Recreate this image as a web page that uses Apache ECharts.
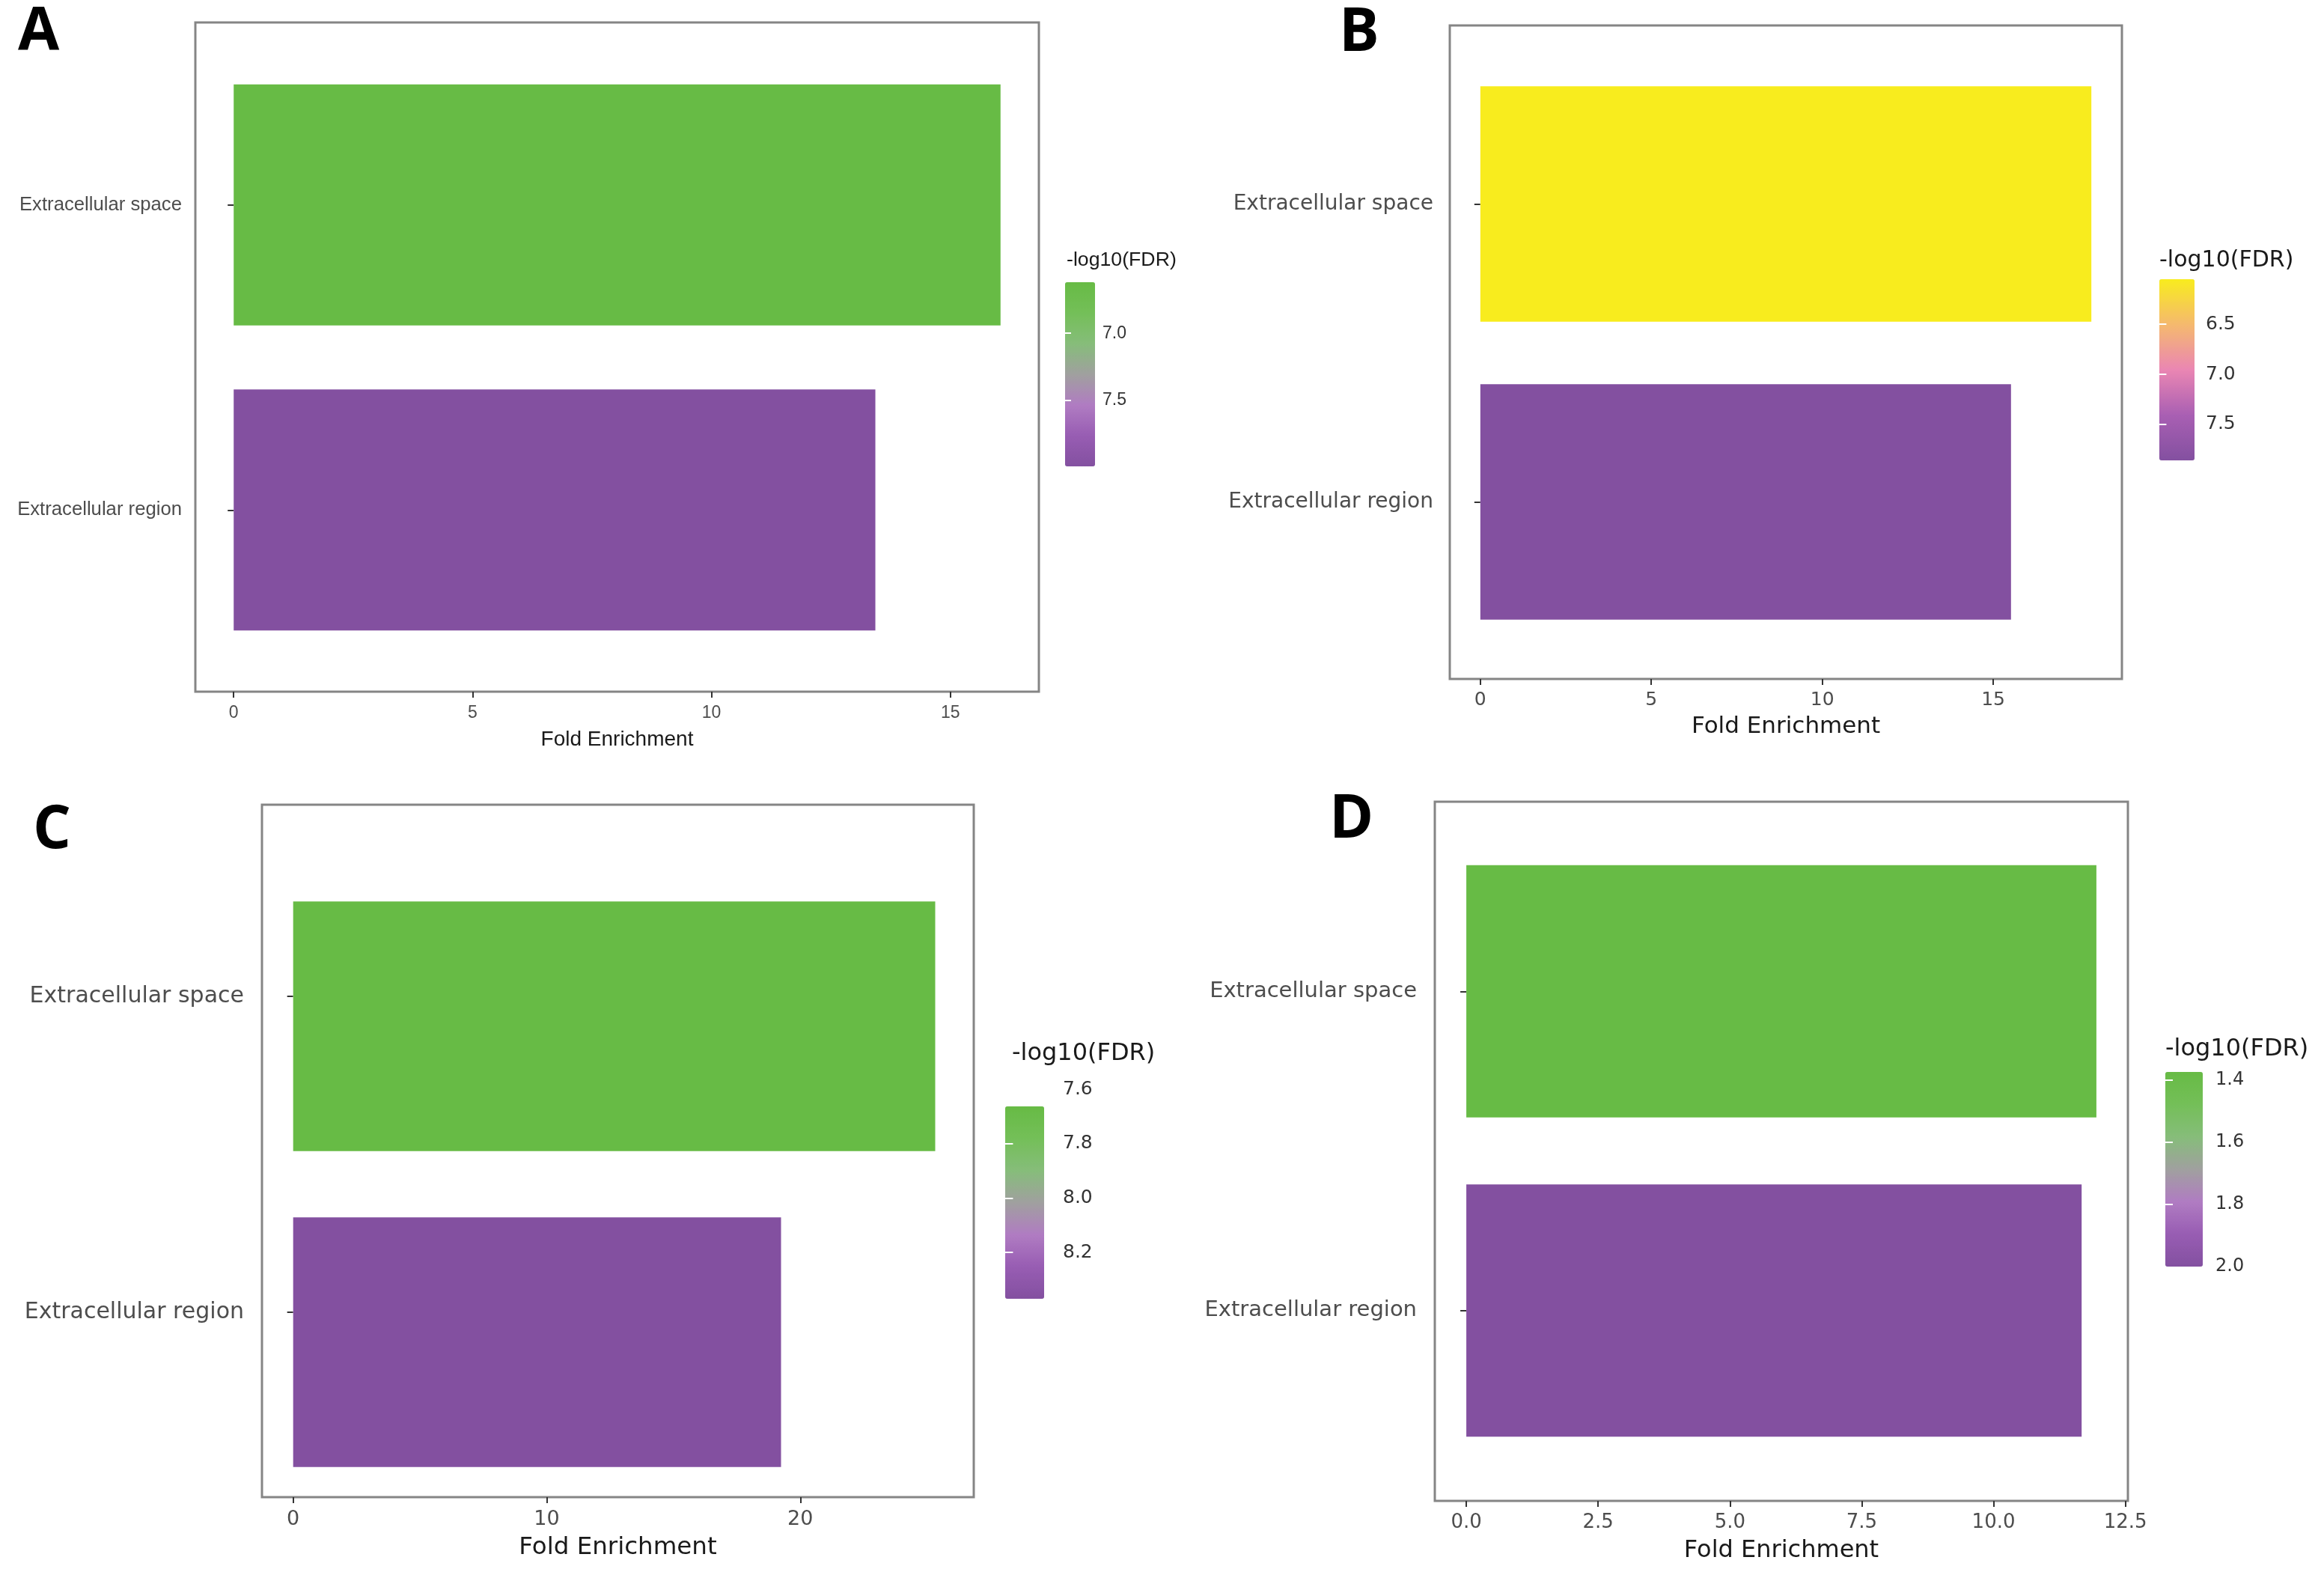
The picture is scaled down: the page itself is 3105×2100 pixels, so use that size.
<!DOCTYPE html>
<html><head><meta charset="utf-8">
<script src="https://cdn.jsdelivr.net/npm/echarts@6/dist/echarts.min.js"></script>
<style>html,body{margin:0;padding:0;background:#fff}#c{width:3105px;height:2100px}</style>
</head><body><div id="c"></div>
<script>
// ---- data ----
const categories = ['Extracellular space', 'Extracellular region'];
const foldA = [16.05, 13.43];
const fdrA  = [6.62, 7.99];
const foldB = [17.87, 15.52];
const fdrB  = [6.05, 7.86];
const foldC = [25.32, 19.24];
const fdrC  = [7.663, 8.37];
const foldD = [11.95, 11.67];
const fdrD  = [1.373, 2.0];
const xTicksA = [0, 5, 10, 15];
const xTicksB = [0, 5, 10, 15];
const xTicksC = [0, 10, 20];
const xTicksD = [0, 2.5, 5, 7.5, 10, 12.5];
const xRangeC = [-1.23, 26.84];
const legTicksA = [7.0, 7.5];
const legTicksB = [6.5, 7.0, 7.5];
const legTicksC = [7.6, 7.8, 8.0, 8.2];
const legTicksD = [1.4, 1.6, 1.8, 2.0];

// ---- styles ----
const greenPurple = ['#67bb45', '#74bf58', '#86bd7a', '#a0a09f', '#b07cc2', '#985db3', '#8350a0'];
const yellowPurple = ['#f8ec1e', '#f5b96e', '#ea86b3', '#a95fb3', '#8350a0'];
const narrowFont = "'Liberation Sans', Arial, sans-serif";
const dejavu = "'DejaVu Sans', sans-serif";

const panels = [
  { letter: 'A', fold: foldA, fdr: fdrA, xTicks: xTicksA, legTicks: legTicksA, colors: greenPurple, dec: 0,
    frame: {l: 261, r: 1388, t: 30, b: 924}, inner: {t: 70, b: 885}, labShift: 0,
    leg: {x: 1423, y: 377, w: 40, h: 246, lab: 10, tx: 1425, ty: 348}, lp: {x: 24, y: 44},
    font: narrowFont, sz: {cat: 25.7, tick: 23, name: 28, lt: 26.7, ll: 23}, gap: {cat: 18, tick: 17.5, name: 50} },
  { letter: 'B', fold: foldB, fdr: fdrB, xTicks: xTicksB, legTicks: legTicksB, colors: yellowPurple, dec: 0,
    frame: {l: 1937, r: 2835, t: 34, b: 907}, inner: {t: 73.5, b: 869.5}, labShift: 0,
    leg: {x: 2885, y: 373, w: 47, h: 242, lab: 15, tx: 2885, ty: 348}, lp: {x: 1789, y: 45},
    font: dejavu, sz: {cat: 28, tick: 25, name: 31, lt: 30, ll: 25}, gap: {cat: 22, tick: 15.5, name: 48} },
  { letter: 'C', fold: foldC, fdr: fdrC, xTicks: xTicksC, legTicks: legTicksC, colors: greenPurple, dec: 0, xRange: xRangeC,
    frame: {l: 350, r: 1301, t: 1075, b: 2000}, inner: {t: 1160, b: 2004}, labShift: -40,
    leg: {x: 1343, y: 1478, w: 52, h: 257, lab: 25, tx: 1352, ty: 1408}, lp: {x: 44, y: 1110},
    font: dejavu, sz: {cat: 30, tick: 27, name: 32.5, lt: 32, ll: 25}, gap: {cat: 24, tick: 16.5, name: 51} },
  { letter: 'D', fold: foldD, fdr: fdrD, xTicks: xTicksD, legTicks: legTicksD, colors: greenPurple, dec: 1,
    frame: {l: 1917, r: 2843, t: 1071, b: 2005}, inner: {t: 1111, b: 1964}, labShift: 0,
    leg: {x: 2893, y: 1432, w: 50, h: 260, lab: 17, tx: 2893, ty: 1402}, lp: {x: 1776, y: 1096},
    font: dejavu, sz: {cat: 29, tick: 26, name: 32, lt: 32, ll: 24}, gap: {cat: 24, tick: 16, name: 50.5} }
];

const option = { animation: false, backgroundColor: '#fff', grid: [], xAxis: [], yAxis: [], series: [], visualMap: [], graphic: [] };
const tickLine = {color: '#333', width: 2};

panels.forEach((p, i) => {
  const fmax = Math.max(...p.fold);
  const xmin = p.xRange ? p.xRange[0] : -0.05 * fmax;
  const xmax = p.xRange ? p.xRange[1] : 1.05 * fmax;
  const fmin = Math.min(...p.fdr), fmx = Math.max(...p.fdr);
  const W = p.frame.r - p.frame.l;
  // frame grid (panel border, x axis ticks and title)
  let g = option.grid.length;
  option.grid.push({left: p.frame.l, top: p.frame.t, width: W, height: p.frame.b - p.frame.t,
    show: true, borderColor: '#858585', borderWidth: 3, backgroundColor: 'transparent', containLabel: false, outerBoundsMode: 'none'});
  option.xAxis.push({gridIndex: g, type: 'value', min: xmin, max: xmax,
    axisLine: {show: false}, splitLine: {show: false},
    axisTick: {show: true, length: 8, lineStyle: tickLine, customValues: p.xTicks},
    axisLabel: {customValues: p.xTicks, formatter: v => Number(v).toFixed(p.dec), fontSize: p.sz.tick, fontFamily: p.font, color: '#4d4d4d', margin: p.gap.tick},
    name: 'Fold Enrichment', nameLocation: 'middle', nameGap: p.gap.name,
    nameTextStyle: {fontSize: p.sz.name, fontFamily: p.font, color: '#1a1a1a'}});
  option.yAxis.push({gridIndex: g, type: 'value', show: false, min: 0, max: 1});
  // grid for bars (discrete axis with ggplot-like expansion)
  g = option.grid.length;
  option.grid.push({left: p.frame.l, top: p.inner.t, width: W, height: p.inner.b - p.inner.t,
    show: false, containLabel: false, outerBoundsMode: 'none'});
  const xi = option.xAxis.length, yi = option.yAxis.length;
  option.xAxis.push({gridIndex: g, type: 'value', min: xmin, max: xmax, show: false});
  option.yAxis.push({gridIndex: g, type: 'category', data: categories, inverse: true, show: false});
  const si = option.series.length;
  option.series.push({type: 'bar', xAxisIndex: xi, yAxisIndex: yi, barWidth: '79%', silent: true,
    data: categories.map((c, k) => [p.fold[k], c, p.fdr[k]]), encode: {x: 0, y: 1}});
  // grid for the category labels and ticks
  g = option.grid.length;
  option.grid.push({left: p.frame.l, top: p.inner.t + p.labShift, width: W, height: p.inner.b - p.inner.t,
    show: false, containLabel: false, outerBoundsMode: 'none'});
  option.xAxis.push({gridIndex: g, type: 'value', min: xmin, max: xmax, show: false});
  option.yAxis.push({gridIndex: g, type: 'category', data: categories, inverse: true,
    axisLine: {show: false}, splitLine: {show: false},
    axisTick: {show: true, alignWithLabel: true, length: 8, lineStyle: tickLine},
    axisLabel: {fontSize: p.sz.cat, fontFamily: p.font, color: '#4d4d4d', margin: p.gap.cat}});
  option.visualMap.push({type: 'continuous', seriesIndex: si, dimension: 2, min: fmin, max: fmx,
    inverse: true, orient: 'vertical', left: p.leg.x, top: p.leg.y, itemWidth: p.leg.w, itemHeight: p.leg.h,
    padding: 0, calculable: false, hoverLink: false, inRange: {color: p.colors}});
  // colour-bar tick axis
  const lo = Math.min(fmin, p.legTicks[0]) - 0.002;
  const hi = Math.max(fmx, p.legTicks[p.legTicks.length - 1]) + 0.002;
  const ppu = p.leg.h / (fmx - fmin);
  g = option.grid.length;
  option.grid.push({left: p.leg.x, top: p.leg.y - (fmin - lo) * ppu, width: p.leg.w, height: (hi - lo) * ppu,
    show: false, containLabel: false, outerBoundsMode: 'none'});
  option.xAxis.push({gridIndex: g, type: 'value', show: false, min: 0, max: 1});
  const inTicks = p.legTicks.filter(v => v > fmin + 0.01 && v < fmx - 0.01);
  ['right', 'left'].forEach(pos => {
    option.yAxis.push({gridIndex: g, type: 'value', inverse: true, min: lo, max: hi, position: pos, z: 10,
      axisLine: {show: false}, splitLine: {show: false},
      axisTick: {show: true, inside: true, length: p.leg.w / 5, lineStyle: {color: '#ffffff', width: 2}, customValues: inTicks},
      axisLabel: {show: pos === 'right', customValues: p.legTicks, formatter: v => Number(v).toFixed(1),
        margin: p.leg.lab, fontSize: p.sz.ll, fontFamily: p.font, color: '#333'}});
  });
  // legend title & panel letter
  option.graphic.push({type: 'text', x: p.leg.tx, y: p.leg.ty, z: 20,
    style: {text: '-log10(FDR)', fontSize: p.sz.lt, fontFamily: p.font, fill: '#1a1a1a', textAlign: 'left', textVerticalAlign: 'middle'}});
  option.graphic.push({type: 'text', x: p.lp.x, y: p.lp.y, z: 20,
    style: {text: p.letter, fontSize: 80, fontWeight: 'bold', fontFamily: "'Open Sans', sans-serif", fill: '#000', textAlign: 'left', textVerticalAlign: 'middle'}});
});

const chart = echarts.init(document.getElementById('c'), null, {renderer: 'canvas'});
chart.setOption(option);
</script></body></html>
